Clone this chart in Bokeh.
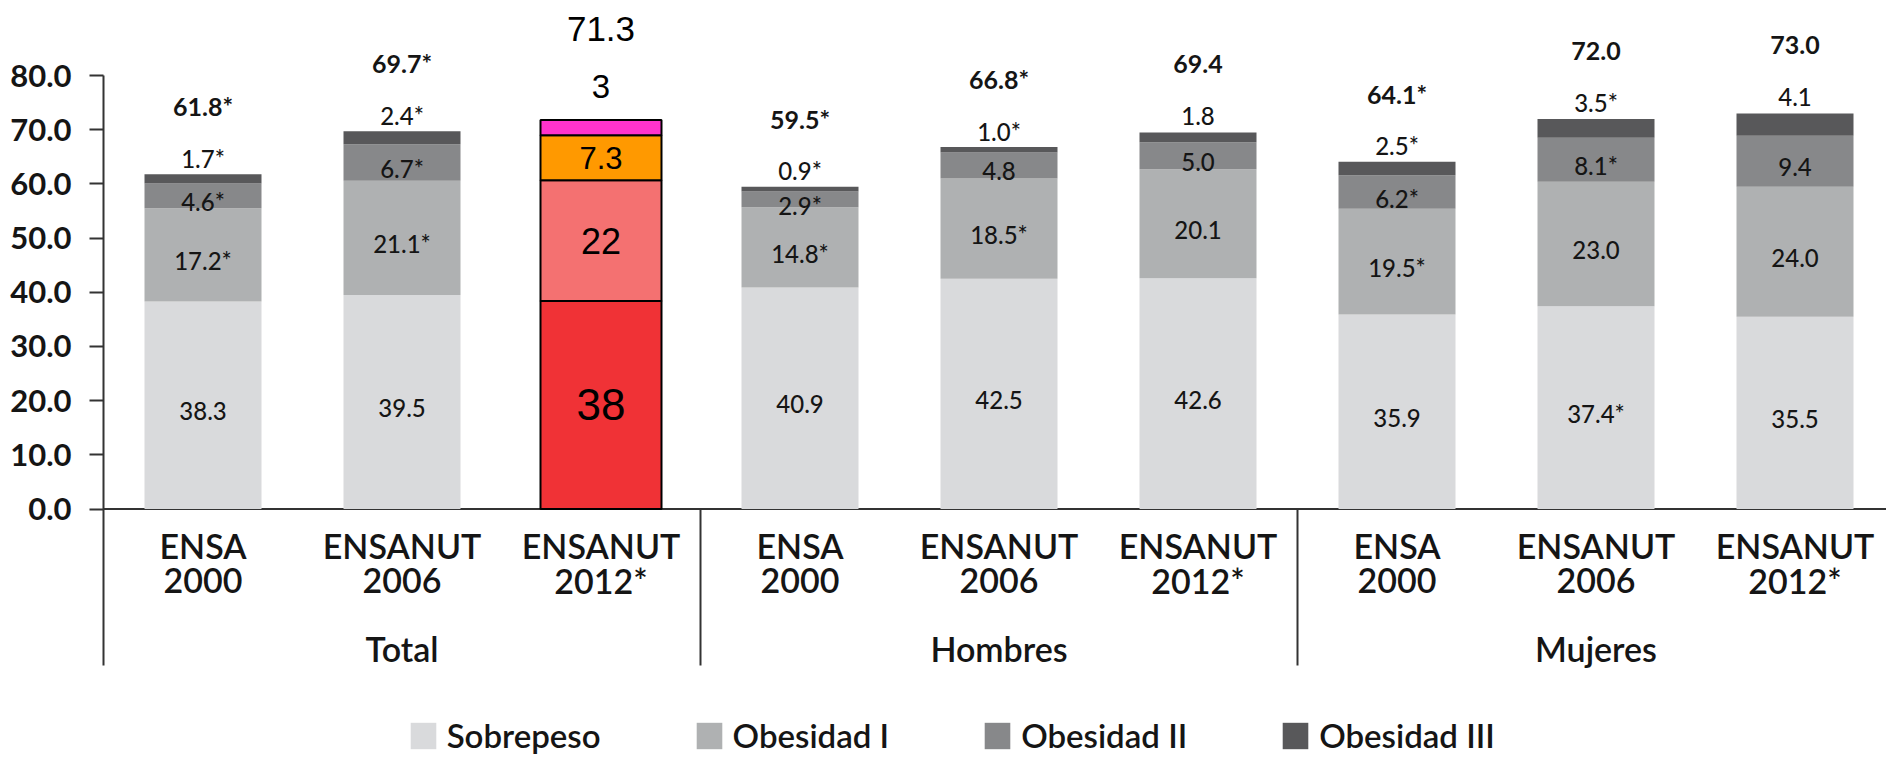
from bokeh.plotting import figure
from bokeh.models import (Range1d, LinearAxis, FixedTicker, PrintfTickFormatter,
                          Span, Legend, LegendItem, ColumnDataSource)
from bokeh.core.properties import value
from bokeh.embed import file_html
from bokeh.resources import INLINE

# ---------------- data ----------------
groups = ["Total", "Hombres", "Mujeres"]
cat_line1 = ["ENSA", "ENSANUT", "ENSANUT"] * 3
cat_line2 = ["2000", "2006", "2012*"] * 3
series = ["Sobrepeso", "Obesidad I", "Obesidad II", "Obesidad III"]
grey_colors = ["#D9DADC", "#AFB1B2", "#87888A", "#58585A"]

# grey bars: every position except Total / ENSANUT 2012
grey_pos = [0, 1, 3, 4, 5, 6, 7, 8]
sobrepeso = [38.3, 39.5, 40.9, 42.5, 42.6, 35.9, 37.4, 35.5]
obesidad1 = [17.2, 21.1, 14.8, 18.5, 20.1, 19.5, 23.0, 24.0]
obesidad2 = [4.6, 6.7, 2.9, 4.8, 5.0, 6.2, 8.1, 9.4]
obesidad3 = [1.7, 2.4, 0.9, 1.0, 1.8, 2.5, 3.5, 4.1]
lab_sob = ["38.3", "39.5", "40.9", "42.5", "42.6", "35.9", "37.4*", "35.5"]
lab_ob1 = ["17.2*", "21.1*", "14.8*", "18.5*", "20.1", "19.5*", "23.0", "24.0"]
lab_ob2 = ["4.6*", "6.7*", "2.9*", "4.8", "5.0", "6.2*", "8.1*", "9.4"]
lab_ob3 = ["1.7*", "2.4*", "0.9*", "1.0*", "1.8", "2.5*", "3.5*", "4.1"]
lab_tot = ["61.8*", "69.7*", "59.5*", "66.8*", "69.4", "64.1*", "72.0", "73.0"]

# highlighted bar (Total / ENSANUT 2012)
hi_pos = 2
hi_values = [38.4, 22.3, 8.3, 2.8]
hi_labels = ["38", "22", "7.3", "3"]
hi_total = "71.3"
hi_colors = ["#F03236", "#F47171", "#FF9900", "#FF33CC"]

yticks = [0, 10, 20, 30, 40, 50, 60, 70, 80]

# ---------------- layout constants (screen px) ----------------
OFF = 0            # page offset (template has no body margin)
W, H = 1886, 758
FRAME_L = 103      # screen x of the y axis
Y0 = 508.5         # screen y of value 0
PXU = 5.418        # px per unit
XC0 = 202.5        # screen x of first bar center
PXC = 199.0        # px between bar centers
BAR_W = 117 / PXC


def v_of(Y):
    return (Y0 - Y) / PXU


def dv(px):
    return px / PXU


x_start = (FRAME_L - XC0) / PXC
x_end = (OFF + W - XC0) / PXC
y_top = v_of(OFF)
y_bot = v_of(OFF + H)
sep_bottom = v_of(665)

p = figure(width=W, height=H, x_range=Range1d(x_start, x_end),
           y_range=Range1d(y_bot, y_top), output_backend="svg",
           toolbar_location=None, x_axis_type=None, y_axis_type=None,
           min_border_left=FRAME_L - OFF, min_border_right=0,
           min_border_top=0, min_border_bottom=0)
p.outline_line_color = None
p.background_fill_color = "white"
p.border_fill_color = "white"

FONT = value("Lato Semibold")
FONT_M = value("Lato Medium")
TXT = "#151515"

# y axis
yax = LinearAxis(ticker=FixedTicker(ticks=yticks),
                 formatter=PrintfTickFormatter(format="%.1f"))
yax.bounds = (sep_bottom, yticks[-1])
yax.axis_line_color = "#333333"
yax.axis_line_width = 2
yax.major_tick_line_color = "#333333"
yax.major_tick_line_width = 2
yax.major_tick_out = 14
yax.major_tick_in = 0
yax.minor_tick_line_color = None
yax.major_label_standoff = 18
yax.major_label_text_font = "Lato"
yax.major_label_text_font_style = "bold"
yax.major_label_text_font_size = "31px"
yax.major_label_text_color = TXT
p.add_layout(yax, "left")

# x axis line
p.add_layout(Span(location=0, dimension="width", line_color="#333333",
                  line_width=2, level="underlay"))

# group separators
n_per = 3
sep_x = [g * n_per - 0.5 for g in range(1, len(groups))]
p.segment(x0=sep_x, y0=[0] * len(sep_x), x1=sep_x, y1=[sep_bottom] * len(sep_x),
          line_color="#333333", line_width=2)

# grey stacked bars
src = ColumnDataSource(dict(x=grey_pos, s0=sobrepeso, s1=obesidad1,
                            s2=obesidad2, s3=obesidad3))
rends = p.vbar_stack(["s0", "s1", "s2", "s3"], x="x", width=BAR_W,
                     color=grey_colors, line_color=None, source=src)

# labels for grey bars
cx, cy, ct = [], [], []
ox, oy, ot = [], [], []
tx, ty, tt = [], [], []
for k, xp in enumerate(grey_pos):
    vals = [sobrepeso[k], obesidad1[k], obesidad2[k], obesidad3[k]]
    labs = [lab_sob[k], lab_ob1[k], lab_ob2[k]]
    base = 0.0
    for j in range(3):
        cx.append(xp)
        cy.append(base + vals[j] / 2 - dv(6))
        ct.append(labs[j])
        base += vals[j]
    top = base + vals[3]
    ox.append(xp)
    oy.append(top + dv(16))
    ot.append(lab_ob3[k])
    tx.append(xp)
    ty.append(top + dv(68))
    tt.append(lab_tot[k])

p.text(x=cx, y=cy, text=ct, text_font=FONT_M, text_font_size="24px",
       text_align="center", text_baseline="middle", text_color=TXT)
p.text(x=ox, y=oy, text=ot, text_font=FONT_M, text_font_size="24px",
       text_align="center", text_baseline="middle", text_color=TXT)
p.text(x=tx, y=ty, text=tt, text_font=value("Lato"), text_font_size="25px",
       text_font_style="bold", text_align="center", text_baseline="middle",
       text_color=TXT)

# highlighted bar
bottoms, tops = [], []
b = 0.0
for v in hi_values:
    bottoms.append(b)
    b += v
    tops.append(b)
p.vbar(x=[hi_pos] * len(hi_values), width=121 / PXC, bottom=bottoms, top=tops,
       fill_color=hi_colors, line_color="black", line_width=2)

hi_sizes = ["44px", "36px", "31px"]
for j in range(3):
    p.text(x=[hi_pos], y=[(bottoms[j] + tops[j]) / 2], text=[hi_labels[j]],
           text_font=value("Liberation Sans"), text_font_size=hi_sizes[j],
           text_align="center", text_baseline="middle", text_color="black")
p.text(x=[hi_pos], y=[tops[-1] + dv(33)], text=[hi_labels[3]],
       text_font=value("Liberation Sans"), text_font_size="33px",
       text_align="center", text_baseline="middle", text_color="black")
p.text(x=[hi_pos], y=[tops[-1] + dv(91)], text=[hi_total],
       text_font=value("Liberation Sans"), text_font_size="35px",
       text_align="center", text_baseline="middle", text_color="black")

# category labels
xs = list(range(len(cat_line1)))
p.text(x=xs, y=[v_of(544.5)] * len(xs), text=cat_line1, text_font=FONT,
       text_font_size="34px", text_align="center", text_baseline="middle",
       text_color=TXT)
p.text(x=xs, y=[v_of(579.5)] * len(xs), text=cat_line2, text_font=FONT,
       text_font_size="34px", text_align="center", text_baseline="middle",
       text_color=TXT)

# group labels
gx = [g * n_per + (n_per - 1) / 2 for g in range(len(groups))]
p.text(x=gx, y=[v_of(648)] * len(gx), text=groups, text_font=FONT,
       text_font_size="34px", text_align="center", text_baseline="middle",
       text_color=TXT)

# legend
legend = Legend(items=[LegendItem(label=s, renderers=[r]) for s, r in zip(series, rends)],
                orientation="horizontal", location=(406.7 - FRAME_L, 3),
                glyph_width=32, glyph_height=33, label_height=33,
                label_standoff=8, spacing=92, padding=0, margin=0,
                border_line_color=None, background_fill_alpha=0,
                label_text_font="Lato Semibold", label_text_font_size="33px",
                label_text_color=TXT)
p.add_layout(legend)

open("out.html", "w").write(file_html(p, INLINE))
